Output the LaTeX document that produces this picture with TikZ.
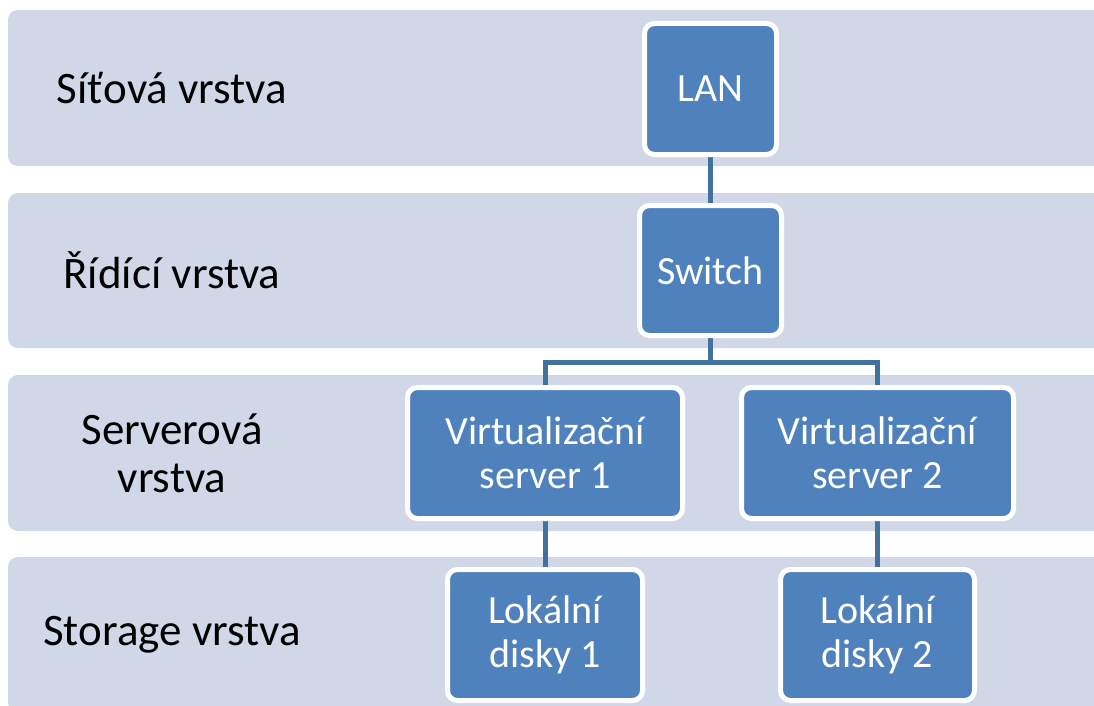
\documentclass[tikz,border=0pt]{standalone}
\usepackage{fontspec}
\setmainfont{Carlito}
\pgfdeclarelayer{bands}
\pgfdeclarelayer{links}
\pgfsetlayers{bands,links,main}
\definecolor{bandcol}{HTML}{D0D8E8}
\definecolor{boxcol}{HTML}{4F81BD}
\definecolor{linkcol}{HTML}{41719C}
\tikzset{
  band/.style={fill=bandcol, draw=none, rounded corners=10pt},
  lbl/.style={font=\fontsize{45}{48}\selectfont, align=center, text=black, inner sep=0pt},
  unit/.style={fill=boxcol, draw=white, line width=5pt, rounded corners=10pt,
     text=white, align=center, inner sep=0pt,
     font=\fontsize{40}{44}\selectfont},
  conn/.style={draw=linkcol, line width=5pt}
}
\begin{document}
\begin{tikzpicture}[x=1pt,y=-1pt]
\useasboundingbox (0,0) rectangle (1094,706);
\begin{pgfonlayer}{bands}
  \fill[white] (0,0) rectangle (1094,706);
  \path[band] (8,10) rectangle (1120,166);
  \path[band] (8,193) rectangle (1120,348);
  \path[band] (8,375) rectangle (1120,531);
  \path[band] (8,557) rectangle (1120,713);
\end{pgfonlayer}
% layer labels
\node[lbl] (l1) at (172,88) {Síťová vrstva};
\node[lbl] (l2) at (172,270) {Řídící vrstva};
\node[lbl] (l3) at (172,453) {Serverová\\vrstva};
\node[lbl] (l4) at (172,635) {Storage vrstva};
% units
\node[unit, minimum width=132pt, minimum height=131pt] (lan) at (710.5,89) {LAN};
\node[unit, minimum width=142pt, minimum height=130pt] (sw) at (710.5,270.5) {Switch};
\node[unit, minimum width=275pt, minimum height=131pt] (s1) at (545,453) {Virtualizační\\server 1};
\node[unit, minimum width=272pt, minimum height=131pt] (s2) at (877.5,453) {Virtualizační\\server 2};
\node[unit, minimum width=195pt, minimum height=131pt] (d1) at (545,635) {Lokální\\disky 1};
\node[unit, minimum width=194pt, minimum height=131pt] (d2) at (877.5,635) {Lokální\\disky 2};
\coordinate (j) at (710.5,362);
\begin{pgfonlayer}{links}
  \draw[conn] (lan.center) -- (sw.center);
  \draw[conn] (sw.center) -- (j);
  \draw[conn] (s1.center) |- (j) -| (s2.center);
  \draw[conn] (s1.center) -- (d1.center);
  \draw[conn] (s2.center) -- (d2.center);
\end{pgfonlayer}
\end{tikzpicture}
\end{document}
